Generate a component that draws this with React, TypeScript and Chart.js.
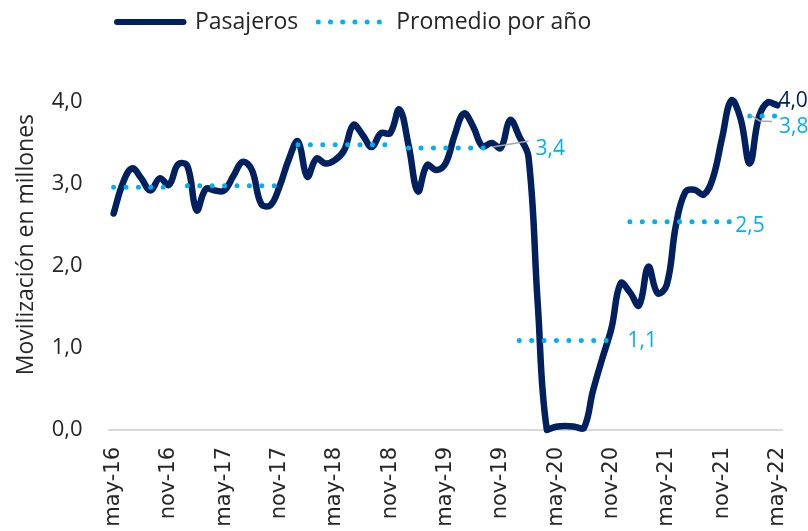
import React, { useEffect, useRef } from 'react';
import { Chart, registerables } from 'chart.js';

Chart.register(...registerables);

// ---------- data ----------
const CATEGORIES = [
  'may-16', 'jun-16', 'jul-16', 'ago-16', 'sep-16', 'oct-16', 'nov-16', 'dic-16',
  'ene-17', 'feb-17', 'mar-17', 'abr-17', 'may-17', 'jun-17', 'jul-17', 'ago-17', 'sep-17', 'oct-17', 'nov-17', 'dic-17',
  'ene-18', 'feb-18', 'mar-18', 'abr-18', 'may-18', 'jun-18', 'jul-18', 'ago-18', 'sep-18', 'oct-18', 'nov-18', 'dic-18',
  'ene-19', 'feb-19', 'mar-19', 'abr-19', 'may-19', 'jun-19', 'jul-19', 'ago-19', 'sep-19', 'oct-19', 'nov-19', 'dic-19',
  'ene-20', 'feb-20', 'mar-20', 'abr-20', 'may-20', 'jun-20', 'jul-20', 'ago-20', 'sep-20', 'oct-20', 'nov-20', 'dic-20',
  'ene-21', 'feb-21', 'mar-21', 'abr-21', 'may-21', 'jun-21', 'jul-21', 'ago-21', 'sep-21', 'oct-21', 'nov-21', 'dic-21',
  'ene-22', 'feb-22', 'mar-22', 'abr-22', 'may-22',
];

const PASAJEROS = [
  2.64, 3.01, 3.19, 3.07, 2.92, 3.07, 2.99, 3.24,
  3.22, 2.68, 2.94, 2.92, 2.92, 3.10, 3.27, 3.17, 2.76, 2.74, 2.97, 3.30,
  3.52, 3.09, 3.31, 3.25, 3.29, 3.41, 3.72, 3.60, 3.45, 3.62, 3.62, 3.91,
  3.47, 2.91, 3.23, 3.17, 3.25, 3.60, 3.86, 3.70, 3.46, 3.50, 3.44, 3.78,
  3.58, 3.33, 1.55, 0.00, 0.04, 0.05, 0.04, 0.02, 0.48, 0.87, 1.24, 1.79,
  1.68, 1.52, 1.99, 1.67, 1.77, 2.50, 2.90, 2.93, 2.87, 3.07, 3.56, 4.02,
  3.80, 3.25, 3.82, 4.00, 3.96,
];

const SERIES_NAMES = ['Pasajeros', 'Promedio por año'];

const AVG_YEARS = ['2016', '2017', '2018', '2019', '2020', '2021', '2022'];
const AVG_VALUES = [2.96, 2.98, 3.48, 3.44, 1.09, 2.54, 3.83];
const AVG_FROM = ['may-16', 'ene-17', 'ene-18', 'ene-19', 'ene-20', 'ene-21', 'feb-22'];
const AVG_TO = ['nov-16', 'nov-17', 'nov-18', 'oct-19', 'nov-20', 'dic-21', 'may-22'];

const Y_MIN = 0;
const Y_MAX = 4;
const Y_STEP = 1;
const X_TICK_EVERY = 6;
const Y_TITLE = 'Movilización en millones';

// ---------- styles ----------
const NAVY = '#002060';
const CYAN = '#00B0F0';
const TEXT = '#262626';
const LEADER = '#A6A6A6';
const AXIS = '#D9D9D9';
const SANS = '"Open Sans", "Noto Sans", sans-serif';
const DOT_DASH = [0.01, 12.4];

const fmt = (v: number) => v.toFixed(1).replace('.', ',');

// label placement relative to the last point of each yearly segment
const AVG_LABEL_STYLE: any[] = [
  null,
  null,
  null,
  { dx: 44, dy: 7, leader: [[1, -1], [37, -7]] },
  { dx: 16, dy: 6 },
  { dx: 4, dy: 10 },
  { dx: 1.7, dy: 17, leader: [[-27.5, -1], [-17.5, 5], [-5.5, 5.5]] },
];
const LAST_LABEL_STYLE = { dx: 1, dy: 1.4 };

const LEGEND_START_X = 117;
const LEGEND_CENTER_Y = 22;
const LEGEND_PAD = 20;
const LEGEND_FONT = 23;

const avgData = CATEGORIES.map((_, i) => {
  for (let k = 0; k < AVG_YEARS.length; k++) {
    const a = CATEGORIES.indexOf(AVG_FROM[k]);
    const b = CATEGORIES.indexOf(AVG_TO[k]);
    if (i >= a && i <= b) return AVG_VALUES[k];
  }
  return null;
});

const legendPlacer = {
  id: 'legendPlacer',
  afterLayout(chart: any) {
    const lg = chart.legend;
    if (!lg) return;
    const w = lg.width;
    const h = lg.height;
    lg.left = LEGEND_START_X - LEGEND_PAD;
    lg.right = lg.left + w;
    lg.top = LEGEND_CENTER_Y - LEGEND_PAD - LEGEND_FONT / 2;
    lg.bottom = lg.top + h;
  },
};

const valueLabels = {
  id: 'valueLabels',
  afterDatasetsDraw(chart: any) {
    const ctx = chart.ctx;
    const pax = chart.getDatasetMeta(0);
    const avg = chart.getDatasetMeta(1);
    ctx.save();
    ctx.font = `21px ${SANS}`;
    ctx.textAlign = 'left';
    ctx.textBaseline = 'alphabetic';
    AVG_YEARS.forEach((_, k) => {
      const st = AVG_LABEL_STYLE[k];
      if (!st) return;
      const idx = CATEGORIES.indexOf(AVG_TO[k]);
      const pt = avg.data[idx];
      if (!pt) return;
      if (st.leader) {
        ctx.beginPath();
        ctx.strokeStyle = LEADER;
        ctx.lineWidth = 1.5;
        st.leader.forEach((p: number[], j: number) => {
          const px = pt.x + p[0];
          const py = pt.y + p[1];
          if (j === 0) ctx.moveTo(px, py);
          else ctx.lineTo(px, py);
        });
        ctx.stroke();
      }
      ctx.fillStyle = CYAN;
      ctx.fillText(fmt(AVG_VALUES[k]), pt.x + st.dx, pt.y + st.dy);
    });
    const li = PASAJEROS.length - 1;
    const lp = pax.data[li];
    ctx.fillStyle = NAVY;
    ctx.fillText(fmt(PASAJEROS[li]), lp.x + LAST_LABEL_STYLE.dx, lp.y + LAST_LABEL_STYLE.dy);
    ctx.restore();
  },
};

export default function App() {
  const ref = useRef<HTMLCanvasElement | null>(null);

  useEffect(() => {
    if (!ref.current) return;
    const chart = new Chart(ref.current, {
      type: 'line',
      data: {
        labels: CATEGORIES,
        datasets: [
          {
            label: SERIES_NAMES[0],
            data: PASAJEROS,
            borderColor: NAVY,
            backgroundColor: NAVY,
            borderWidth: 6.5,
            tension: 0.4,
            pointRadius: 0,
            borderCapStyle: 'round',
            borderJoinStyle: 'round',
            clip: false,
            order: 2,
          } as any,
          {
            label: SERIES_NAMES[1],
            data: avgData,
            borderColor: CYAN,
            backgroundColor: CYAN,
            borderWidth: 5,
            borderDash: DOT_DASH,
            borderCapStyle: 'round',
            pointRadius: 0,
            tension: 0,
            spanGaps: false,
            clip: false,
            order: 1,
          } as any,
        ],
      },
      options: {
        responsive: false,
        animation: false,
        layout: { padding: { top: 49, right: 26, bottom: 0, left: 13 } },
        scales: {
          x: {
            type: 'category',
            offset: true,
            grid: { display: false, drawTicks: false },
            border: { display: true, color: AXIS, width: 2 },
            ticks: {
              autoSkip: false,
              minRotation: 90,
              maxRotation: 90,
              padding: 17,
              color: TEXT,
              font: { family: '"DejaVu Sans", sans-serif', size: 21 },
              callback: (_v: any, i: number) => (i % X_TICK_EVERY === 0 ? CATEGORIES[i] : ''),
            },
            afterFit: (s: any) => {
              s.height = 101;
              s.paddingLeft = 0;
              s.paddingRight = 0;
            },
          },
          y: {
            min: Y_MIN,
            max: Y_MAX,
            grid: { display: false, drawTicks: false },
            border: { display: false },
            ticks: {
              stepSize: Y_STEP,
              padding: 26.5,
              color: TEXT,
              font: { family: SANS, size: 22 },
              callback: (v: any) => fmt(Number(v)),
            },
            title: {
              display: true,
              text: Y_TITLE + '  ',
              align: 'end',
              color: TEXT,
              font: { family: SANS, size: 23 },
              padding: { top: 0, bottom: 0 },
            },
            afterFit: (s: any) => {
              s.width = 96;
              s.paddingTop = 0;
              s.paddingBottom = 0;
            },
          },
        },
        plugins: {
          tooltip: { enabled: false },
          legend: {
            display: true,
            position: 'top',
            align: 'start',
            labels: {
              usePointStyle: true,
              pointStyleWidth: 66.5,
              padding: LEGEND_PAD,
              color: TEXT,
              font: { family: SANS, size: LEGEND_FONT },
              generateLabels: () => [
                {
                  text: SERIES_NAMES[0],
                  strokeStyle: NAVY,
                  fillStyle: NAVY,
                  lineWidth: 6,
                  lineCap: 'round',
                  pointStyle: 'line',
                  hidden: false,
                  datasetIndex: 0,
                  fontColor: TEXT,
                },
                {
                  text: SERIES_NAMES[1],
                  strokeStyle: CYAN,
                  fillStyle: CYAN,
                  lineWidth: 5,
                  lineCap: 'round',
                  lineDash: [0.01, 12.2],
                  pointStyle: 'line',
                  hidden: false,
                  datasetIndex: 1,
                  fontColor: TEXT,
                },
              ],
            },
          },
        },
      } as any,
      plugins: [legendPlacer, valueLabels],
    });
    return () => chart.destroy();
  }, []);

  return (
    <div style={{ position: 'fixed', left: 0, top: 0, width: 808, height: 531, background: '#fff' }}>
      <canvas ref={ref} width={808} height={531} style={{ display: 'block' }} />
    </div>
  );
}
